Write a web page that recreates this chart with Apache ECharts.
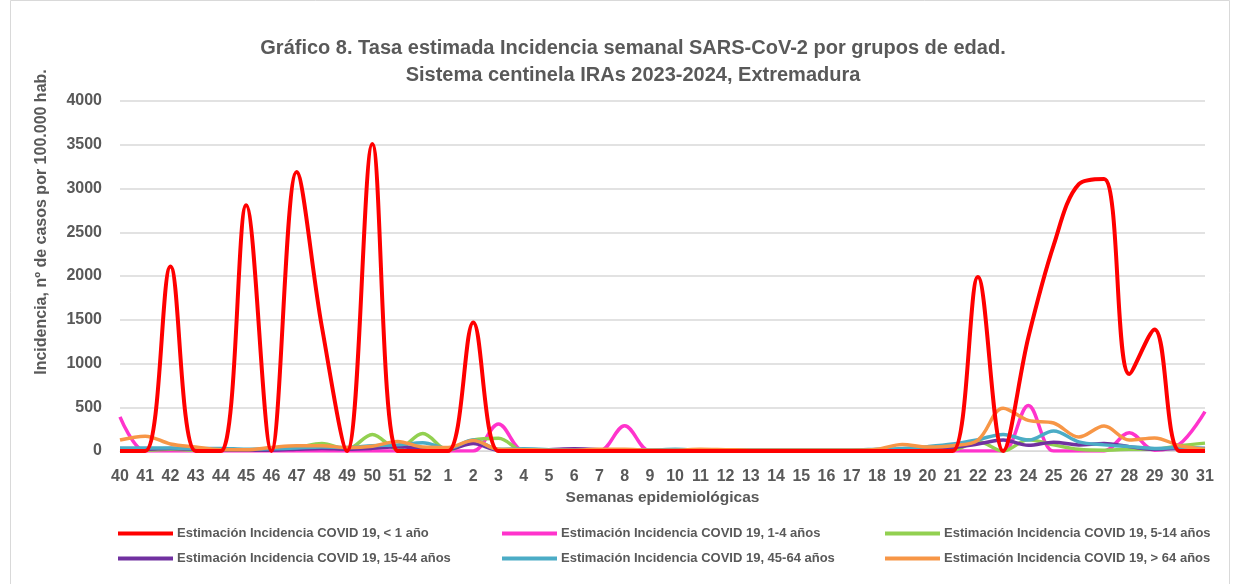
<!DOCTYPE html>
<html>
<head>
<meta charset="utf-8">
<script src="https://cdn.jsdelivr.net/npm/echarts@6/dist/echarts.min.js"></script>
<style>
html,body{margin:0;padding:0;background:#fff;}
#main{width:1239px;height:584px;}
</style>
</head>
<body>
<div id="main"></div>
<script>
// semanas epidemiologicas 40-52 (2023) y 1-31 (2024)
var semanas = ['40','41','42','43','44','45','46','47','48','49','50','51','52',
  '1','2','3','4','5','6','7','8','9','10','11','12','13','14','15','16','17','18','19','20',
  '21','22','23','24','25','26','27','28','29','30','31'];

var menor1 = [0,0,2110,0,0,2810,0,3190,1420,0,3510,0,0,
  0,1470,0,0,0,0,0,0,0,0,0,0,0,0,0,0,0,0,0,0,
  0,1990,0,1300,2350,3050,3110,880,1390,0,0];
var de1a4 = [390,0,0,0,0,0,0,0,0,0,0,0,0,
  0,0,310,0,0,0,0,290,0,0,0,0,0,0,0,0,0,0,0,0,
  0,0,0,520,0,0,0,210,10,80,450];
var de5a14 = [10,10,20,10,10,10,20,40,85,20,190,20,200,
  10,125,145,0,10,10,10,10,10,10,10,10,10,10,10,10,10,10,10,10,
  10,110,0,130,70,20,10,20,20,60,90];
var de15a44 = [20,20,30,20,10,10,10,20,30,20,30,50,30,
  20,85,10,10,15,25,15,10,5,5,5,5,5,5,5,5,5,5,10,20,
  40,80,125,65,100,70,85,50,20,30,30];
var de45a64 = [35,35,35,25,30,20,25,35,45,40,60,70,95,
  30,125,20,25,15,10,10,10,10,20,10,15,10,10,10,10,10,20,30,50,
  80,130,190,125,230,105,70,50,30,40,30];
var mayor64 = [125,170,80,45,15,15,40,60,60,40,55,110,45,
  40,120,20,15,10,10,20,20,10,10,20,15,10,10,10,10,10,20,75,45,
  60,125,490,350,320,160,285,125,150,60,20];

var nombres = ['Estimación Incidencia COVID 19, < 1 año',
  'Estimación Incidencia COVID 19, 1-4 años',
  'Estimación Incidencia COVID 19, 5-14 años',
  'Estimación Incidencia COVID 19, 15-44 años',
  'Estimación Incidencia COVID 19, 45-64 años',
  'Estimación Incidencia COVID 19, > 64 años'];
var colores = ['#ff0000','#ff33cc','#92d050','#7030a0','#4bacc6','#f79646'];
var datos = [menor1, de1a4, de5a14, de15a44, de45a64, mayor64];

var fuente = 'Liberation Sans';
var gris = '#595959';

var myChart = echarts.init(document.getElementById('main'));

var series = [];
// rojo al final para que quede encima
var orden = [1,2,3,4,5,0];
for (var k = 0; k < orden.length; k++) {
  var i = orden[k];
  series.push({
    name: nombres[i],
    type: 'line',
    smooth: 0.35,
    symbol: 'none',
    data: datos[i],
    lineStyle: {color: colores[i], width: i == 0 ? 4 : 3.5},
    itemStyle: {color: colores[i]}
  });
}

var leyenda = function (left, items) {
  return {
    orient: 'vertical',
    left: left,
    top: 522,
    itemGap: 12,
    itemWidth: 55,
    itemHeight: 4,
    icon: 'rect',
    data: items,
    textStyle: {fontFamily: fuente, fontWeight: 'bold', fontSize: 13, color: gris, padding: [0,0,0,-1]}
  };
};

var option = {
  backgroundColor: '#fff',
  animation: false,
  title: {
    text: 'Gráfico 8. Tasa estimada Incidencia semanal SARS-CoV-2 por grupos de edad.\nSistema centinela IRAs 2023-2024, Extremadura',
    left: 628,
    top: 30,
    textAlign: 'center',
    textStyle: {fontFamily: fuente, fontWeight: 'bold', fontSize: 20, color: gris, lineHeight: 27, align: 'center'}
  },
  legend: [
    leyenda(113, [nombres[0], nombres[3]]),
    leyenda(497, [nombres[1], nombres[4]]),
    leyenda(880, [nombres[2], nombres[5]])
  ],
  grid: {left: 120, right: 34, top: 101, bottom: 133},
  xAxis: {
    type: 'category',
    data: semanas,
    boundaryGap: false,
    name: 'Semanas epidemiológicas',
    nameLocation: 'middle',
    nameGap: 38,
    nameTextStyle: {fontFamily: fuente, fontWeight: 'bold', fontSize: 15.5, color: gris},
    axisLine: {lineStyle: {color: '#d9d9d9', width: 1}},
    axisTick: {show: false},
    axisLabel: {interval: 0, margin: 18, fontFamily: fuente, fontWeight: 'bold', fontSize: 16, color: gris}
  },
  yAxis: {
    type: 'value',
    min: 0,
    max: 4000,
    interval: 500,
    axisLine: {show: false},
    axisTick: {show: false},
    axisLabel: {
      margin: 18, fontFamily: fuente, fontWeight: 'bold', fontSize: 16, color: gris,
      formatter: function (v) { return String(v); }
    },
    splitLine: {lineStyle: {color: '#d9d9d9', width: 1.5}}
  },
  graphic: [
    {
      type: 'rect',
      shape: {x: 10.5, y: 0.5, width: 1219, height: 590},
      style: {fill: 'none', stroke: '#d9d9d9', lineWidth: 1},
      silent: true
    },
    {
      type: 'text',
      x: 42,
      y: 222,
      rotation: Math.PI / 2,
      style: {
        text: 'Incidencia, nº de casos por 100.000 hab.',
        font: 'bold 16px "Liberation Sans"',
        fill: gris,
        align: 'center',
        verticalAlign: 'middle'
      }
    }
  ],
  series: series
};

myChart.setOption(option);
</script>
</body>
</html>
